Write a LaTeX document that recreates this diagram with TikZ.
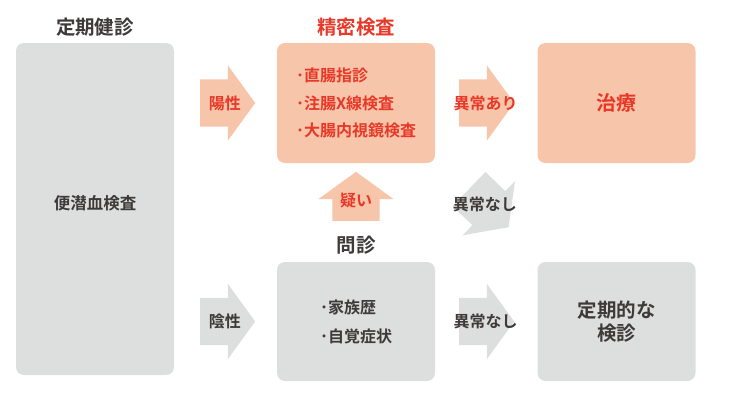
\documentclass[tikz,border=0pt]{standalone}
\usepackage{fontspec}
\setmainfont{Noto Sans CJK JP}[BoldFont={Noto Sans CJK JP Bold}]
\usetikzlibrary{positioning,shapes.arrows,calc}
\definecolor{Salmon}{RGB}{247,197,170}
\definecolor{BoxGray}{RGB}{221,222,222}
\definecolor{AlertRed}{RGB}{232,56,40}
\definecolor{InkGray}{RGB}{62,58,57}
\newcommand{\jfs}[2]{\fontsize{#1}{#2}\selectfont\bfseries}

\begin{document}
\begin{tikzpicture}[
 x=1pt, y=-1pt,
 box/.style={rounded corners=8pt, minimum width=158pt, minimum height=120pt, align=left, inner sep=0pt},
 warm/.style={box, fill=Salmon, text=AlertRed},
 cool/.style={box, fill=BoxGray, text=InkGray},
 ttl/.style={inner sep=0pt, font=\jfs{19.5}{23}},
 barrow/.style={single arrow, minimum height=55pt, inner xsep=0pt, inner ysep=23.5pt, text height=0pt, text depth=0pt, single arrow head extend=14pt, single arrow tip angle=108, outer sep=0pt},
 lbl/.style={inner sep=0pt, font=\jfs{16}{18}}
]
\useasboundingbox (0,0) rectangle (731,402);

% boxes
\node[cool, minimum height=332pt, label={[lbl, font=\jfs{16.5}{20}, text=InkGray, yshift=6pt]center:便潜血検査}] (kenshin) at (95,209) {};
\node[warm, font=\jfs{16}{27.5}] (seimitsu) at (356,103) {･直腸指診\\･注腸X線検査\\･大腸内視鏡検査};
\node[warm, font=\jfs{20}{24}, align=center] (chiryo) at (616.5,103) {治療};
\node[cool, minimum height=119pt, font=\jfs{16}{29}] (monshin) at (356,321.5) {･家族歴\\･自覚症状};
\node[cool, minimum height=119pt, font=\jfs{19.5}{23}, align=center] (teiki) at (616.5,321.5) {定期的な\\検診};

% titles
\node[ttl, text=InkGray, above=6pt of kenshin] (t-kenshin) {定期健診};
\node[ttl, text=AlertRed, above=6pt of seimitsu] (t-seimitsu) {精密検査};
\node[ttl, text=InkGray, above=7pt of monshin] (t-monshin) {問診};

% block arrows
\node[barrow, fill=Salmon, anchor=tail] (a-yousei) at ($(kenshin.east |- seimitsu.west)+(26pt,0)$) {};
\node[barrow, fill=BoxGray, anchor=tail] (a-insei) at ($(kenshin.east |- monshin.west)+(26pt,0)$) {};
\node[barrow, fill=Salmon, anchor=tail] (a-ari) at ($(seimitsu.east)+(24pt,0)$) {};
\node[barrow, fill=BoxGray, anchor=tail] (a-nashi) at ($(monshin.east)+(24pt,0)$) {};
\node[barrow, fill=BoxGray, rotate=-44, anchor=tail] (a-nashi2) at (469,189) {};
\node[barrow, fill=Salmon, minimum height=49pt, rotate=90, anchor=tail] (a-utagai) at ($(monshin.north)+(0,41pt)$) {};

% arrow labels
\node[lbl, text=AlertRed] (l-yousei) at ($(a-yousei.tail)!.45!(a-yousei.tip)$) {陽性};
\node[lbl, text=InkGray] (l-insei) at ($(a-insei.tail)!.45!(a-insei.tip)$) {陰性};
\node[lbl, text=AlertRed] (l-ari) at ($(a-ari.tail)!.48!(a-ari.tip)$) {異常あり};
\node[lbl, text=InkGray] (l-nashi) at ($(a-nashi.tail)!.48!(a-nashi.tip)$) {異常なし};
\node[lbl, text=InkGray] (l-nashi2) at ($(a-nashi2.tail)!.4!(a-nashi2.tip)$) {異常なし};
\node[lbl, text=AlertRed] (l-utagai) at ($(a-utagai.tail)!.41!(a-utagai.tip)$) {疑い};
\end{tikzpicture}
\end{document}
